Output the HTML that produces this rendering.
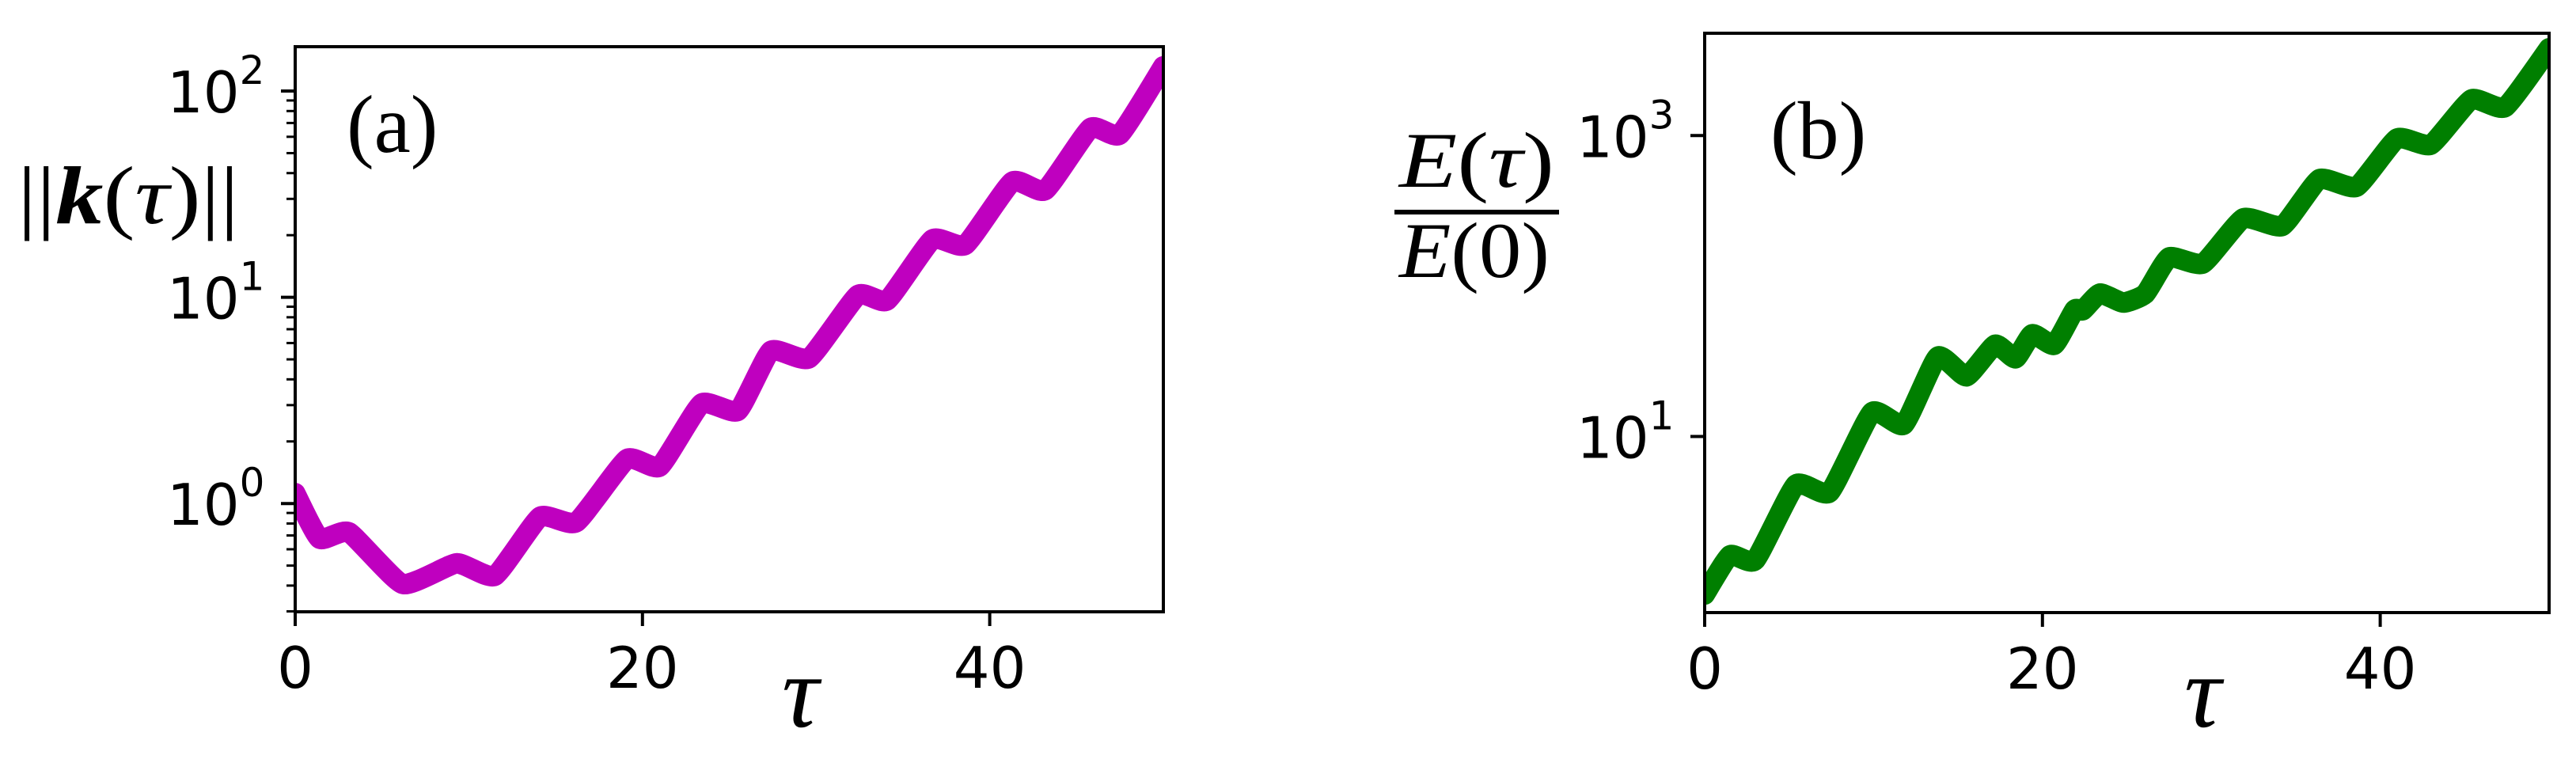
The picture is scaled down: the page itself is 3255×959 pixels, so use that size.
<!DOCTYPE html>
<html><head><meta charset="utf-8">
<style>
html,body{margin:0;padding:0;background:#fff;}
svg{display:block;}
.tick{font-family:"DejaVu Sans","Liberation Sans",sans-serif;font-size:72px;fill:#000;}
.sup{font-size:50px;}
.math{font-family:"Liberation Serif","DejaVu Serif",serif;fill:#000;}
</style></head>
<body>
<svg id="fig" width="3255" height="959" viewBox="0 0 3255 959" xmlns="http://www.w3.org/2000/svg">
  <g id="panelA"></g>
  <g id="panelB"></g>
  <text class="math" x="438" y="192" font-size="104">(a)</text>
  <text class="math" x="2237" y="200" font-size="104">(b)</text>
  <text class="math" x="22" y="282" font-size="104" textLength="280" lengthAdjust="spacingAndGlyphs">||<tspan font-weight="bold" font-style="italic">k</tspan>(<tspan font-style="italic">τ</tspan>)||</text>
  <g>
    <text class="math" x="1768" y="236" font-size="100" textLength="196" lengthAdjust="spacingAndGlyphs"><tspan font-style="italic">E</tspan>(<tspan font-style="italic">τ</tspan>)</text>
    <rect x="1762" y="265" width="208" height="6" fill="#000"></rect>
    <text class="math" x="1768" y="350" font-size="100" textLength="190" lengthAdjust="spacingAndGlyphs"><tspan font-style="italic">E</tspan>(0)</text>
  </g>
  <text class="math" x="988" y="918" font-size="130" font-style="italic">τ</text>
  <text class="math" x="2760" y="918" font-size="130" font-style="italic">τ</text>
</svg>
<script>
// Panel (a) data: ||k(tau)||, values as log10
const tauA = [0, 1.4, 3.1, 6.2, 9.3, 11.5, 14.1, 16.2, 19.1, 21.0, 23.4, 25.5, 27.4, 29.6, 32.4, 34.1, 36.7, 38.6, 41.3, 43.2, 45.8, 47.5, 50];
const logKA = [0.05, -0.17, -0.14, -0.39, -0.29, -0.35, -0.065, -0.09, 0.215, 0.18, 0.484, 0.45, 0.74, 0.705, 1.01, 0.986, 1.28, 1.255, 1.56, 1.52, 1.82, 1.79, 2.12];
const yTicksA = [0, 1, 2];
const xTicks = [0, 20, 40];
// Panel (b) data: E(tau)/E(0), values as log10
const tauB = [0, 1.5, 3.0, 5.4, 7.4, 9.9, 11.8, 13.8, 15.5, 17.2, 18.4, 19.4, 20.7, 21.9, 22.4, 23.4, 24.8, 26.1, 27.5, 29.5, 31.9, 34.2, 36.4, 38.6, 41.0, 43.0, 45.4, 47.4, 50];
const logEB = [-0.05, 0.21, 0.18, 0.68, 0.63, 1.16, 1.08, 1.53, 1.40, 1.61, 1.52, 1.68, 1.61, 1.84, 1.84, 1.95, 1.89, 1.95, 2.19, 2.15, 2.45, 2.40, 2.71, 2.66, 2.98, 2.94, 3.24, 3.19, 3.58];
const yTicksB = [1, 3];

const NS = 'http://www.w3.org/2000/svg';
function mk(tag, attrs, parent){
  const e = document.createElementNS(NS, tag);
  for (const k in attrs) e.setAttribute(k, attrs[k]);
  parent.appendChild(e); return e;
}
function smoothPath(pts){
  const T = 12;
  let d = 'M' + pts[0][0] + ',' + pts[0][1];
  for (let i = 0; i < pts.length - 1; i++){
    const p0 = pts[Math.max(0, i-1)], p1 = pts[i], p2 = pts[i+1], p3 = pts[Math.min(pts.length-1, i+2)];
    const c1x = p1[0] + (p2[0]-p0[0])/T, c1y = p1[1] + (p2[1]-p0[1])/T;
    const c2x = p2[0] - (p3[0]-p1[0])/T, c2y = p2[1] - (p3[1]-p1[1])/T;
    d += ' C' + c1x.toFixed(1) + ',' + c1y.toFixed(1) + ' ' + c2x.toFixed(1) + ',' + c2y.toFixed(1) + ' ' + p2[0].toFixed(1) + ',' + p2[1].toFixed(1);
  }
  return d;
}
function panel(g, cfg){
  const xS = v => cfg.x0 + (v - 0) / 50 * (cfg.x1 - cfg.x0);
  const yS = v => cfg.y0 - (v - cfg.lmin) / (cfg.lmax - cfg.lmin) * (cfg.y0 - cfg.y1);
  const cp = mk('clipPath', {id: cfg.id + '-clip'}, g);
  mk('rect', {x: cfg.x0, y: cfg.y1, width: cfg.x1 - cfg.x0, height: cfg.y0 - cfg.y1}, cp);
  const pts = cfg.xs.map((t, i) => [xS(t), yS(cfg.ys[i])]);
  const line = mk('path', {d: smoothPath(pts), fill: 'none', stroke: cfg.color, 'stroke-width': 26, 'stroke-linejoin': 'round', 'stroke-linecap': 'round', 'clip-path': 'url(#' + cfg.id + '-clip)'}, g);
  
  
  const fr = mk('rect', {x: cfg.x0, y: cfg.y1, width: cfg.x1 - cfg.x0, height: cfg.y0 - cfg.y1, fill: 'none', stroke: '#000', 'stroke-width': 4}, g);
  
  
  xTicks.forEach(t => {
    const x = xS(t);
    mk('line', {x1: x, x2: x, y1: cfg.y0, y2: cfg.y0 + 18, stroke: '#000', 'stroke-width': 4}, g);
    const lb = mk('text', {x: x, y: cfg.y0 + 96, 'text-anchor': 'middle', class: 'tick'}, g);
    lb.textContent = String(t);
    
    
  });
  cfg.yt.forEach(p => {
    const y = yS(p);
    mk('line', {x1: cfg.x0 - 18, x2: cfg.x0, y1: y, y2: y, stroke: '#000', 'stroke-width': 4}, g);
    const lb = mk('text', {x: cfg.x0 - 162, y: y + 27, class: 'tick'}, g);
    
    
    lb.appendChild(document.createTextNode('10'));
    const s = mk('tspan', {class: 'sup', dy: -36}, lb);
    s.textContent = String(p);
  });
  if (cfg.minor){
    for (let dec = Math.floor(cfg.lmin); dec < cfg.lmax; dec++){
      for (let m = 2; m <= 9; m++){
        const v = dec + Math.log10(m);
        if (v < cfg.lmin || v > cfg.lmax) continue;
        const y = yS(v);
        mk('line', {x1: cfg.x0 - 11, x2: cfg.x0, y1: y, y2: y, stroke: '#000', 'stroke-width': 3}, g);
      }
    }
  }
}
panel(document.getElementById('panelA'), {id: 'panel-a', x0: 373, x1: 1470, y0: 773, y1: 59, lmin: -0.525, lmax: 2.215, xs: tauA, ys: logKA, yt: yTicksA, color: '#bf00bf', minor: true});
panel(document.getElementById('panelB'), {id: 'panel-b', x0: 2154, x1: 3221, y0: 774, y1: 42, lmin: -0.17, lmax: 3.68, xs: tauB, ys: logEB, yt: yTicksB, color: '#007f00', minor: false});
</script>
</body></html>
